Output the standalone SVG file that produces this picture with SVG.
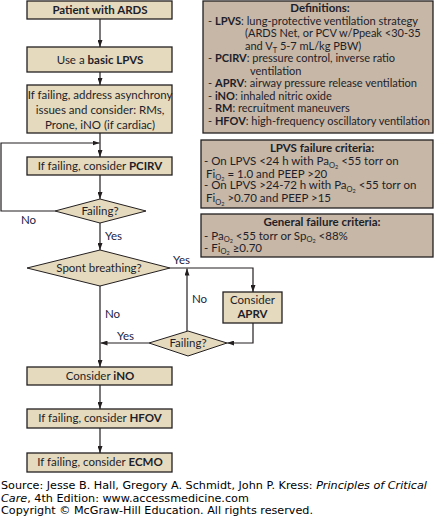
<svg xmlns="http://www.w3.org/2000/svg" width="436" height="517" viewBox="0 0 436 517">
<defs>
<style>
.box{fill:#e5dabd;stroke:#231f20;stroke-width:1.3}
.dbox{fill:#c6b7a6;stroke:#231f20;stroke-width:1.3}
.dia{fill:#e5dabd;stroke:#231f20;stroke-width:1}
.t{font-family:Lato,"Open Sans",sans-serif;font-size:11.5px;fill:#1e1e2a}
.d{font-size:11px}
.c{text-anchor:middle}
.b{font-weight:bold}
.lbl{font-family:Lato,"Open Sans",sans-serif;font-size:11.5px;fill:#1a2345}
.ln{fill:none;stroke:#231f20;stroke-width:1.2}
.src{font-family:"DejaVu Sans",Verdana,sans-serif;font-size:11.2px;fill:#000}
.s1{font-size:7.5px}
.s2{font-size:5.5px}
</style>
<marker id="ah" viewBox="0 0 10 10" refX="10" refY="5" markerWidth="7" markerHeight="5" orient="auto" markerUnits="userSpaceOnUse" preserveAspectRatio="none">
<path d="M0,0 L10,5 L0,10 z" fill="#231f20"/>
</marker>
</defs>

<g id="connectors">
<path class="ln" d="M100,19 V47" marker-end="url(#ah)"/>
<path class="ln" d="M100,72 V85" marker-end="url(#ah)"/>
<path class="ln" d="M100,133 V157" marker-end="url(#ah)"/>
<path class="ln" d="M55,211 H1 V143 H99.5" marker-end="url(#ah)"/>
<path class="ln" d="M100,175 V199" marker-end="url(#ah)"/>
<path class="ln" d="M100,223 V250" marker-end="url(#ah)"/>
<path class="ln" d="M170,268 H253 V292" marker-end="url(#ah)"/>
<path class="ln" d="M253,323 V343 H227" marker-end="url(#ah)"/>
<path class="ln" d="M187,331 V268.5" marker-end="url(#ah)"/>
<path class="ln" d="M149,343 H100.5" marker-end="url(#ah)"/>
<path class="ln" d="M100,286 V367" marker-end="url(#ah)"/>
<path class="ln" d="M100,385 V409" marker-end="url(#ah)"/>
<path class="ln" d="M100,428 V453" marker-end="url(#ah)"/>
<text class="lbl" x="21" y="224">No</text>
<text class="lbl" x="105" y="240">Yes</text>
<text class="lbl" x="173" y="264">Yes</text>
<text class="lbl" x="192" y="303">No</text>
<text class="lbl" x="105" y="318">No</text>
<text class="lbl" x="117" y="340">Yes</text>
</g>

<g id="patient">
<rect class="box" x="27" y="1" width="145" height="18"/>
<text class="t c b" x="100" y="14">Patient with ARDS</text>
</g>
<g id="basic-lpvs">
<rect class="box" x="27" y="47" width="145" height="25"/>
<text class="t c" x="100" y="64">Use a <tspan class="b">basic LPVS</tspan></text>
</g>
<g id="asynchrony">
<rect class="box" x="27" y="85" width="145" height="48"/>
<text class="t c" x="100" y="99">If failing, address asynchrony</text>
<text class="t c" x="100" y="114">issues and consider: RMs,</text>
<text class="t c" x="100" y="129">Prone, iNO (if cardiac)</text>
</g>
<g id="pcirv">
<rect class="box" x="27" y="157" width="145" height="18"/>
<text class="t c" x="100" y="170">If failing, consider <tspan class="b">PCIRV</tspan></text>
</g>
<g id="failing1">
<polygon class="dia" points="55,211 100,199 146,211 100,223"/>
<text class="t c" x="100" y="215">Failing?</text>
</g>
<g id="spont">
<polygon class="dia" points="27,268 100,250 170,268 100,286"/>
<text class="t c" x="99" y="272">Spont breathing?</text>
</g>
<g id="aprv">
<rect class="box" x="223" y="292" width="59" height="31"/>
<text class="t c" x="252.5" y="304">Consider</text>
<text class="t c b" x="252.5" y="318">APRV</text>
</g>
<g id="failing2">
<polygon class="dia" points="149,343 188,331 227,343 188,356"/>
<text class="t c" x="188" y="347">Failing?</text>
</g>
<g id="ino">
<rect class="box" x="27" y="367" width="145" height="18"/>
<text class="t c" x="100" y="380">Consider <tspan class="b">iNO</tspan></text>
</g>
<g id="hfov">
<rect class="box" x="27" y="409" width="145" height="19"/>
<text class="t c" x="100" y="422">If failing, consider <tspan class="b">HFOV</tspan></text>
</g>
<g id="ecmo">
<rect class="box" x="27" y="453" width="145" height="19"/>
<text class="t c" x="100" y="466">If failing, consider <tspan class="b">ECMO</tspan></text>
</g>

<g id="definitions">
<rect class="dbox" x="203" y="1" width="230" height="132"/>
<text class="t c b" x="320" y="12">Definitions:</text>
<text class="t d" x="208" y="24.5" textLength="210" lengthAdjust="spacingAndGlyphs">- <tspan class="b">LPVS</tspan>: lung-protective ventilation strategy</text>
<text class="t d" x="245" y="37">(ARDS Net, or PCV w/Ppeak &lt;30-35</text>
<text class="t d" x="245" y="49.5">and V<tspan class="s1" dy="3">T</tspan><tspan dy="-3"> 5-7 mL/kg PBW)</tspan></text>
<text class="t d" x="208" y="62">- <tspan class="b">PCIRV</tspan>: pressure control, inverse ratio</text>
<text class="t d" x="250" y="74.5">ventilation</text>
<text class="t d" x="208" y="87" textLength="209" lengthAdjust="spacingAndGlyphs">- <tspan class="b">APRV</tspan>: airway pressure release ventilation</text>
<text class="t d" x="208" y="99.5">- <tspan class="b">iNO</tspan>: inhaled nitric oxide</text>
<text class="t d" x="208" y="112">- <tspan class="b">RM</tspan>: recruitment maneuvers</text>
<text class="t d" x="208" y="124.5" textLength="222" lengthAdjust="spacingAndGlyphs">- <tspan class="b">HFOV</tspan>: high-frequency oscillatory ventilation</text>
</g>

<g id="lpvs-failure">
<rect class="dbox" x="201" y="140" width="232" height="68"/>
<text class="t c b" x="322" y="152">LPVS failure criteria:</text>
<text class="t" x="204" y="165">- On LPVS &lt;24 h with Pa<tspan class="s1" dy="2.5">O</tspan><tspan class="s2" dy="1">2</tspan><tspan dy="-3.5"> &lt;55 torr on</tspan></text>
<text class="t" x="206" y="177.5">Fi<tspan class="s1" dy="2.5">O</tspan><tspan class="s2" dy="1">2</tspan><tspan dy="-3.5"> = 1.0 and PEEP &gt;20</tspan></text>
<text class="t" x="204" y="189">- On LPVS &gt;24-72 h with Pa<tspan class="s1" dy="2.5">O</tspan><tspan class="s2" dy="1">2</tspan><tspan dy="-3.5"> &lt;55 torr on</tspan></text>
<text class="t" x="206" y="202">Fi<tspan class="s1" dy="2.5">O</tspan><tspan class="s2" dy="1">2</tspan><tspan dy="-3.5"> &gt;0.70 and PEEP &gt;15</tspan></text>
</g>

<g id="general-failure">
<rect class="dbox" x="201" y="214" width="232" height="43"/>
<text class="t c b" x="322" y="226">General failure criteria:</text>
<text class="t" x="204" y="239.5">- Pa<tspan class="s1" dy="2.5">O</tspan><tspan class="s2" dy="1">2</tspan><tspan dy="-3.5"> &lt;55 torr or Sp</tspan><tspan class="s1" dy="2.5">O</tspan><tspan class="s2" dy="1">2</tspan><tspan dy="-3.5"> &lt;88%</tspan></text>
<text class="t" x="204" y="251.5">- Fi<tspan class="s1" dy="2.5">O</tspan><tspan class="s2" dy="1">2</tspan><tspan dy="-3.5"> ≥0.70</tspan></text>
</g>

<g id="source">
<text class="src" x="1" y="489">Source: Jesse B. Hall, Gregory A. Schmidt, John P. Kress: <tspan font-style="italic">Principles of Critical</tspan></text>
<text class="src" x="1" y="501.5"><tspan font-style="italic">Care</tspan>, 4th Edition: www.accessmedicine.com</text>
<text class="src" x="1" y="514">Copyright © McGraw-Hill Education. All rights reserved.</text>
</g>
</svg>
